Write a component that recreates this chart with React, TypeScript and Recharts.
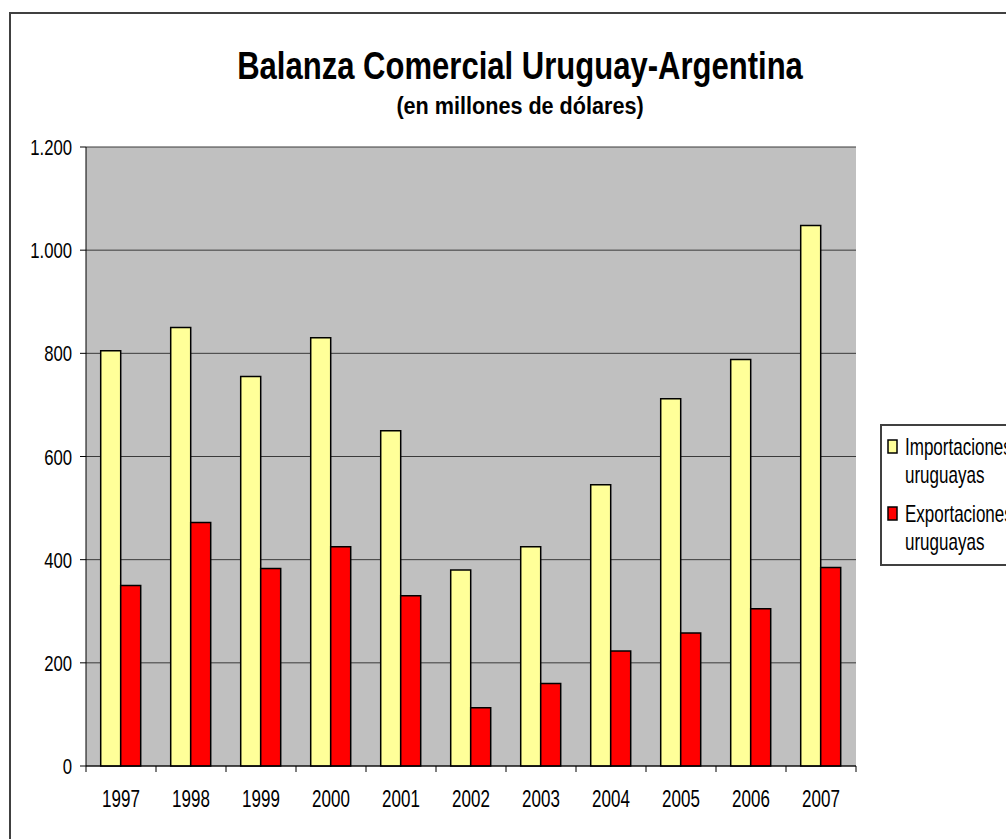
import React from "react";
import { Bar, BarChart, CartesianGrid, Legend, XAxis, YAxis } from "recharts";

const years = ["1997", "1998", "1999", "2000", "2001", "2002", "2003", "2004", "2005", "2006", "2007"];
const importaciones = [805, 850, 755, 830, 650, 380, 425, 545, 712, 788, 1048];
const exportaciones = [350, 472, 383, 425, 330, 113, 160, 223, 258, 305, 385];
const yTicks = [0, 200, 400, 600, 800, 1000, 1200];
const seriesOrder = ["imp", "exp"];

const W = 1006;
const H = 839;
const PLOT_LEFT = 86;
const PLOT_RIGHT = 150;
const PLOT_W = W - PLOT_LEFT - PLOT_RIGHT;
const FONT = '"Liberation Sans", Arial, sans-serif';

const data = years.map((year, i) => ({
  year,
  imp: importaciones[i],
  exp: exportaciones[i],
}));

const fmt = (v: number) => String(v).replace(/\B(?=(\d{3})+(?!\d))/g, ".");

function XTick(props: any) {
  const { x, y, payload, index } = props;
  const band = PLOT_W / years.length;
  return (
    <g>
      <line x1={x - band / 2} x2={x - band / 2} y1={y} y2={y + 6} stroke="#000" />
      {index === years.length - 1 && (
        <line x1={x + band / 2} x2={x + band / 2} y1={y} y2={y + 6} stroke="#000" />
      )}
      <text
        transform={`translate(${x},${y + 41}) scale(0.74,1)`}
        textAnchor="middle"
        fontSize={23}
        fontFamily={FONT}
        fill="#000"
      >
        {payload.value}
      </text>
    </g>
  );
}

function YTick(props: any) {
  const { x, y, payload } = props;
  return (
    <text
      transform={`translate(${x},${y + 8}) scale(0.76,1)`}
      textAnchor="end"
      fontSize={22}
      fontFamily={FONT}
      fill="#000"
    >
      {fmt(payload.value)}
    </text>
  );
}

function LegendBox(props: any) {
  const items = [...(props.payload || [])].sort(
    (a: any, b: any) => seriesOrder.indexOf(a.dataKey) - seriesOrder.indexOf(b.dataKey)
  );
  return (
    <svg width={170} height={142} style={{ display: "block", overflow: "visible" }}>
      <rect x={1} y={1} width={170} height={140} fill="#fff" stroke="#404040" strokeWidth={2} />
      {items.map((p: any, i: number) => {
        const words = String(p.value).split(" ");
        return (
          <g key={i} transform={`translate(0,${i * 67})`}>
            <rect x={8} y={16} width={9} height={13} fill={p.color} stroke="#000" strokeWidth={1.5} />
            {words.map((w, j) => (
              <text
                key={j}
                transform={`translate(25,${31 + j * 28}) scale(0.74,1)`}
                fontSize={23}
                fontFamily={FONT}
                fill="#000"
              >
                {w}
              </text>
            ))}
          </g>
        );
      })}
    </svg>
  );
}

export default function App() {
  return (
    <div
      style={{
        position: "absolute",
        left: 0,
        top: 0,
        width: W,
        height: H,
        overflow: "hidden",
        background: "#fff",
      }}
    >
      <div
        style={{
          position: "absolute",
          left: 9,
          top: 12,
          width: 1100,
          height: 900,
          border: "2px solid #404040",
        }}
      />
      <svg width={W} height={140} style={{ position: "absolute", left: 0, top: 0 }}>
        <text
          transform="translate(520,79) scale(0.817,1)"
          textAnchor="middle"
          fontSize={38}
          fontWeight="bold"
          fontFamily={FONT}
          fill="#000"
        >
          Balanza Comercial Uruguay-Argentina
        </text>
        <text
          transform="translate(520,114) scale(0.9,1)"
          textAnchor="middle"
          fontSize={24}
          fontWeight="bold"
          fontFamily={FONT}
          fill="#000"
        >
          (en millones de dólares)
        </text>
      </svg>
      <div style={{ position: "absolute", left: 0, top: 0 }}>
        <BarChart
          width={W}
          height={H}
          data={data}
          margin={{ top: 147, right: PLOT_RIGHT, bottom: 33, left: 0 }}
          barCategoryGap="21%"
          barGap={0}
        >
          <CartesianGrid vertical={false} stroke="#3a3a3a" fill="#c0c0c0" fillOpacity={1} />
          <XAxis
            dataKey="year"
            height={40}
            tickLine={false}
            tickSize={0}
            tickMargin={0}
            axisLine={{ stroke: "#000" }}
            tick={<XTick />}
            interval={0}
          />
          <YAxis
            width={PLOT_LEFT}
            domain={[0, 1200]}
            ticks={yTicks}
            tickSize={6}
            tickMargin={8}
            tickLine={{ stroke: "#000" }}
            axisLine={{ stroke: "#000" }}
            tick={<YTick />}
          />
          <YAxis
            yAxisId="r"
            orientation="right"
            width={0}
            domain={[0, 1200]}
            tick={false}
            tickLine={false}
            axisLine={{ stroke: "#808080", strokeWidth: 2 }}
          />
          <Legend
            layout="vertical"
            verticalAlign="middle"
            align="center"
            content={<LegendBox />}
            wrapperStyle={{ left: 880, top: 424, width: 170, height: 142 }}
          />
          <Bar
            dataKey="imp"
            name="Importaciones uruguayas"
            fill="#ffff99"
            stroke="#000"
            strokeWidth={1.5}
            isAnimationActive={false}
          />
          <Bar
            dataKey="exp"
            name="Exportaciones uruguayas"
            fill="#ff0000"
            stroke="#000"
            strokeWidth={1.5}
            isAnimationActive={false}
          />
        </BarChart>
      </div>
    </div>
  );
}
